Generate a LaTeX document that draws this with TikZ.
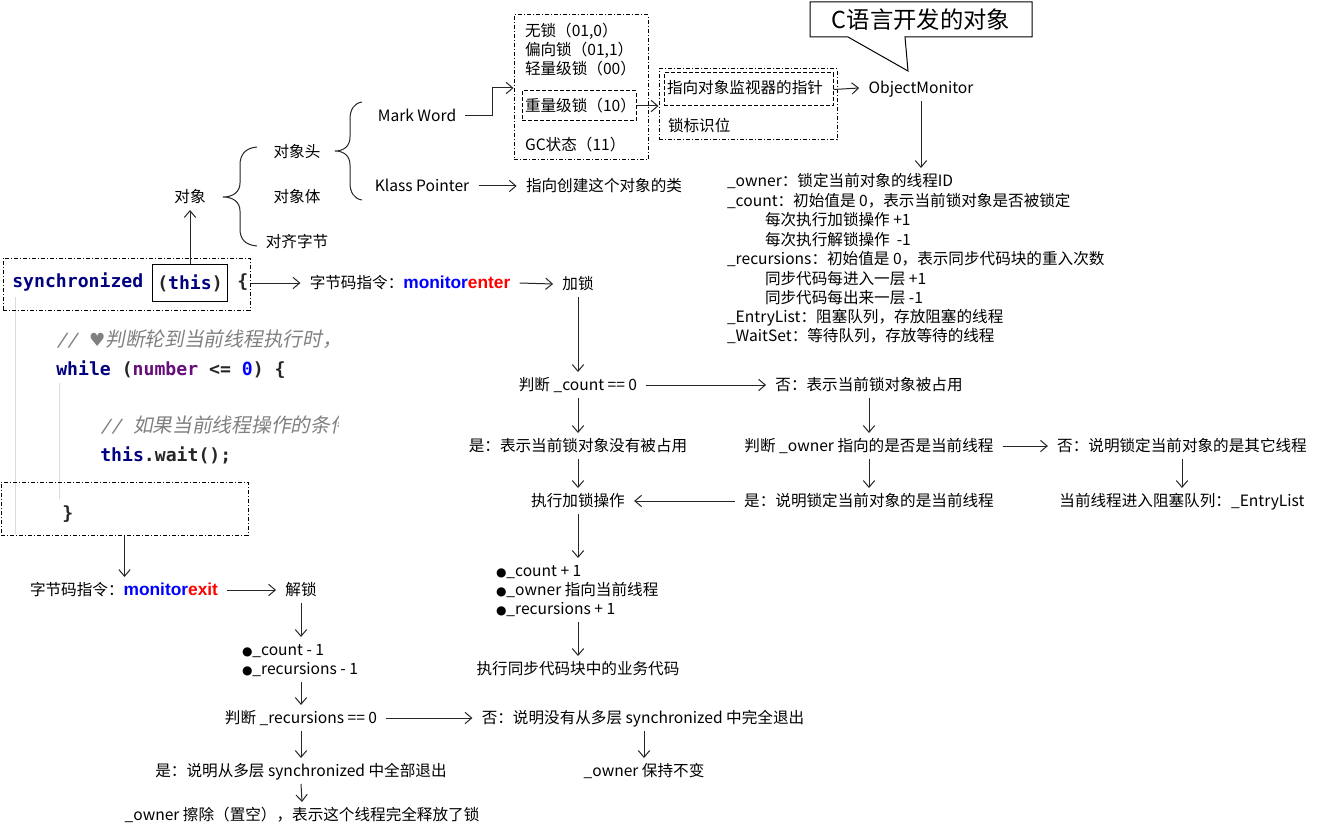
\documentclass[tikz,border=0pt]{standalone}
\usepackage{fontspec}
\setmainfont{Noto Sans CJK SC}
\newfontfamily\codefont{DejaVu Sans Mono}
\newfontfamily\cmtfont{Noto Sans CJK SC}[FakeSlant=0.2]
\newfontfamily\cmtmono{DejaVu Sans Mono}[FakeSlant=0.2]
\newfontfamily\kwfont{Liberation Sans}
\newfontfamily\symfont{DejaVu Sans}
\usetikzlibrary{arrows.meta,fit}
\definecolor{kw}{HTML}{000080}
\definecolor{numc}{HTML}{660E7A}
\definecolor{lit}{HTML}{0000FF}
\definecolor{cmt}{HTML}{808080}
\definecolor{guide}{HTML}{DCDCDC}
\definecolor{ln}{HTML}{262626}
\newcommand{\mysz}{\fontsize{11.7pt}{14pt}\selectfont}
\newcommand{\mycode}{\fontsize{13.6pt}{16pt}\codefont\bfseries}
\newcommand{\mycmt}{\fontsize{14.8pt}{17pt}\cmtfont\mdseries}
\newcommand{\mycmtm}{\fontsize{13.6pt}{16pt}\cmtmono\mdseries}
\newcommand{\mykw}{\fontsize{13pt}{15pt}\kwfont\bfseries}
\newcommand{\mycall}{\fontsize{17.5pt}{20pt}\selectfont}
\newcommand{\bul}{{\fontsize{9pt}{9pt}\symfont ●}}
\begin{document}
\begin{tikzpicture}[x=0.75pt,y=-0.75pt,
  t/.style={inner sep=0pt, outer xsep=7pt, outer ysep=4pt, text height=10pt, text depth=1.5pt, font=\mysz, text=black},
  lt/.style={t, anchor=west, outer xsep=0pt},
  code/.style={inner sep=0pt, anchor=west, font=\mycode, text height=10pt, text depth=0.4pt},
  arr/.style={draw=ln, line width=0.75pt, -{Straight Barb[length=5pt,width=8.5pt]}},
  dd/.style={draw=black, line width=0.75pt, dash pattern=on 3pt off 1.5pt on 0.75pt off 1.5pt, inner sep=0pt},
  dsh/.style={draw=black, line width=0.75pt, dash pattern=on 3pt off 1.5pt, inner sep=0pt},
  brace/.style={draw=ln, line width=0.75pt}
]
\fill[white] (0,0) rectangle (1320,831);
\useasboundingbox (0,0) rectangle (1320,831);

% ---------- code ----------
\draw[guide, line width=0.75pt] (15,297) -- (15,534);
\draw[guide, line width=0.75pt] (59,383) -- (59,499);
\node[dd, fit={(3,258) (250,310)}] (syncbox) {};
\node[dd, fit={(1,482) (248,535)}] (exitbox) {};
\node[code, text=kw] (sync) at (12,281) {synchronized};
\node[draw=black, line width=0.75pt, minimum width=56pt, minimum height=27.5pt, inner sep=0pt, font=\mycode, text height=10pt, text depth=0.4pt] (thisbox) at (190,283) {\color{ln}(\color{kw}this\color{ln})};
\node[code, text=ln] (lbrace) at (237,281) {\{};
\begin{scope}
\clip (0,320) rectangle (338,470);
\node[code, text=cmt] (cm1) at (56,340) {{\mycmtm // }{\fontsize{13.6pt}{16pt}\symfont ♥}{\mycmt 判断轮到当前线程执行时，}};
\node[code, text=cmt] (cm2) at (100,426) {{\mycmtm // }{\mycmt 如果当前线程操作的条件}};
\end{scope}
\node[code] (wh) at (56,369) {\color{kw}while \color{ln}(\color{numc}number \color{ln}<= \color{lit}0\color{ln}) \{};
\node[code] (tw) at (100,455) {\color{kw}this\color{ln}.wait();};
\node[code, text=ln] (rb) at (62,513) {\}};

% ---------- object structure ----------
\node[t] (obj) at (190,197) {对象};
\node[t] (head) at (297,152) {对象头};
\node[t] (bodyn) at (297,197) {对象体};
\node[t] (alignn) at (297,242) {对齐字节};
\node[t] (mw) at (417,116) {Mark Word};
\node[t] (kp) at (422,186) {Klass Pointer};
\node[t] (cls) at (604,186) {指向创建这个对象的类};
\draw[brace] (257,147) .. controls (245,148) and (240,155) .. (240,165) -- (240,183) .. controls (240,192) and (233,197) .. (223,197) .. controls (233,197) and (240,202) .. (240,211) -- (240,229) .. controls (240,239) and (245,245) .. (257,246);
\draw[brace] (362,102) .. controls (354,103) and (350,110) .. (350,119) -- (350,137) .. controls (350,146) and (344,151) .. (335,151) .. controls (344,151) and (350,156) .. (350,165) -- (350,183) .. controls (350,192) and (354,199) .. (362,200);

\node[dd, fit={(514,15) (648,160)}] (box1) {};
\node[lt] (l1) at (525,31) {无锁（01,0）};
\node[lt] (l2) at (525,50) {偏向锁（01,1）};
\node[lt] (l3) at (525,69) {轻量级锁（00）};
\node[dsh, fit={(522,91) (636,121)}] (heavybox) {};
\node[lt] (l4) at (525,106) {重量级锁（10）};
\node[lt] (l5) at (525,145) {GC状态（11）};

\node[dd, fit={(659,69) (837,140)}] (box2) {};
\node[dsh, fit={(664,73) (833,106)}] (ptrbox) {};
\node[lt] (ptr) at (667,88) {指向对象监视器的指针};
\node[lt] (flag) at (668,126) {锁标识位};
\node[t] (om) at (921,88) {ObjectMonitor};

\coordinate (mwbend) at (492,88);
\draw[arr] (mw.east) -| (mwbend) -- (mwbend -| box1.west);
\draw[arr] (kp.east) -- (cls.west);
\draw[arr] (heavybox.east) -- (heavybox.east -| box2.west);
\draw[arr] (ptrbox.east) -- (om.west);
\draw[arr] (thisbox.north) -- (obj.south);

% callout
\draw[line width=0.75pt, fill=white] (810,2) -- (1032,2) -- (1032,37) -- (905,37) -- (908,71) -- (848,37) -- (810,37) -- cycle;
\node[inner sep=0pt, font=\mycall] (callout) at (921,20) {C语言开发的对象};

% ObjectMonitor fields
\node[lt] (f1) at (727,181) {\_owner：锁定当前对象的线程ID};
\node[lt] (f2) at (727,201) {\_count：初始值是 0，表示当前锁对象是否被锁定};
\node[lt] (f3) at (765,220) {每次执行加锁操作 +1};
\node[lt] (f4) at (765,240) {每次执行解锁操作\ \ -1};
\node[lt] (f5) at (727,259) {\_recursions：初始值是 0，表示同步代码块的重入次数};
\node[lt] (f6) at (765,279) {同步代码每进入一层 +1};
\node[lt] (f7) at (765,298) {同步代码每出来一层 -1};
\node[lt] (f8) at (727,317) {\_EntryList：阻塞队列，存放阻塞的线程};
\node[lt] (f9) at (727,336) {\_WaitSet：等待队列，存放等待的线程};
\draw[arr] (om.south) -- (om.south |- f1.north);

% ---------- monitorenter flow ----------
\node[t] (enter) at (410,283) {字节码指令：{\mykw\color{lit}monitor\color{red}enter}};
\node[t] (lock) at (578,284) {加锁};
\node[t] (cnt) at (578,385) {判断 \_count == 0};
\node[t] (no1) at (869,385) {否：表示当前锁对象被占用};
\node[t] (yes1) at (578,446) {是：表示当前锁对象没有被占用};
\node[t] (own) at (869,446) {判断 \_owner 指向的是否是当前线程};
\node[t] (no2) at (1182,446) {否：说明锁定当前对象的是其它线程};
\node[t] (entry) at (1182,501) {当前线程进入阻塞队列：\_EntryList};
\node[t] (yes2) at (869,501) {是：说明锁定当前对象的是当前线程};
\node[t] (lockop) at (578,501) {执行加锁操作};
\node[lt] (b1) at (496,571) {\bul\_count + 1};
\node[lt] (b2) at (496,590) {\bul\_owner 指向当前线程};
\node[lt] (b3) at (496,609) {\bul\_recursions + 1};
\node[t] (biz) at (578,669) {执行同步代码块中的业务代码};

\draw[arr] (syncbox.east |- enter.west) -- (enter.west);
\draw[arr] (enter.east) -- (lock.west);
\draw[arr] (lock.south) -- (cnt.north);
\draw[arr] (cnt.east) -- (no1.west);
\draw[arr] (cnt.south) -- (yes1.north);
\draw[arr] (no1.south) -- (own.north);
\draw[arr] (own.east) -- (no2.west);
\draw[arr] (own.south) -- (yes2.north);
\draw[arr] (no2.south) -- (entry.north);
\draw[arr] (yes2.west) -- (lockop.east);
\draw[arr] (yes1.south) -- (lockop.north);
\draw[arr] (lockop.south) -- (lockop.south |- b1.north);
\draw[arr] (biz.north |- b3.south) -- (biz.north);

% ---------- monitorexit flow ----------
\node[t] (exitl) at (124,590) {字节码指令：{\mykw\color{lit}monitor\color{red}exit}};
\node[t] (unlock) at (301,590) {解锁};
\node[lt] (c1) at (242,650) {\bul\_count - 1};
\node[lt] (c2) at (242,669) {\bul\_recursions - 1};
\node[t] (rec) at (301,718) {判断 \_recursions == 0};
\node[t] (no3) at (643,718) {否：说明没有从多层 synchronized 中完全退出};
\node[t] (keep) at (644,771) {\_owner 保持不变};
\node[t] (yes3) at (301,771) {是：说明从多层 synchronized 中全部退出};
\node[t] (clear) at (302,815) {\_owner 擦除（置空），表示这个线程完全释放了锁};

\draw[arr] (exitbox.south) -- (exitbox.south |- exitl.north);
\draw[arr] (exitl.east) -- (unlock.west);
\draw[arr] (unlock.south) -- (unlock.south |- c1.north);
\draw[arr] (rec.north |- c2.south) -- (rec.north);
\draw[arr] (rec.east) -- (no3.west);
\draw[arr] (keep.north |- no3.south) -- (keep.north);
\draw[arr] (rec.south) -- (yes3.north);
\draw[arr] (yes3.south) -- (clear.north);
\end{tikzpicture}
\end{document}
